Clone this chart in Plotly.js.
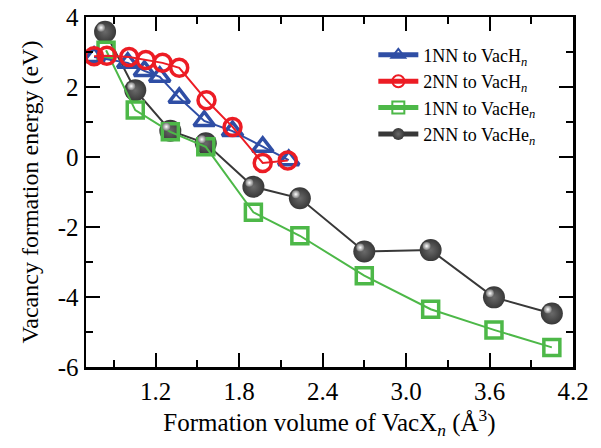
<!DOCTYPE html>
<html>
<head>
<meta charset="utf-8">
<script src="https://cdn.plot.ly/plotly-3.0.1.min.js"></script>
<style>html,body{margin:0;padding:0;background:#fff}#chart{width:601px;height:448px}</style>
</head>
<body>
<div id="chart"></div>
<script>
// 1NN to VacH_n
var h1X = [0.758, 1.00, 1.12, 1.23, 1.37, 1.55, 1.753, 1.97, 2.157];
var h1Y = [2.86, 2.69, 2.46, 2.29, 1.69, 1.03, 0.74, 0.29, -0.09];
// 2NN to VacH_n
var h2X = [0.758, 0.85, 1.01, 1.13, 1.25, 1.37, 1.566, 1.753, 1.97, 2.15];
var h2Y = [2.88, 2.89, 2.86, 2.77, 2.69, 2.55, 1.62, 0.86, -0.17, -0.10];
// 1NN to VacHe_n
var he1X = [0.844, 1.054, 1.306, 1.561, 1.903, 2.237, 2.70, 3.177, 3.632, 4.048];
var he1Y = [3.05, 1.34, 0.72, 0.29, -1.58, -2.25, -3.39, -4.35, -4.94, -5.44];
// 2NN to VacHe_n
var he2X = [0.837, 1.054, 1.306, 1.561, 1.903, 2.237, 2.70, 3.177, 3.632, 4.048];
var he2Y = [3.58, 1.91, 0.75, 0.39, -0.85, -1.18, -2.70, -2.66, -4.01, -4.47];

var seriesNames = ['1NN to VacH<sub><i>n</i></sub>', '2NN to VacH<sub><i>n</i></sub>',
                   '1NN to VacHe<sub><i>n</i></sub>', '2NN to VacHe<sub><i>n</i></sub>'];

var xTickVals = [1.2, 1.8, 2.4, 3.0, 3.6, 4.2];
var xTickText = ['1.2', '1.8', '2.4', '3.0', '3.6', '4.2'];
var yTickVals = [-6, -4, -2, 0, 2, 4];
var yTickText = ['-6', '-4', '-2', '0', '2', '4'];

var blue = '#2f4ea5', red = '#ec1c24', green = '#4db848', dark = '#383838';
var serif = 'Liberation Serif';

var traces = [
  {x: h1X, y: h1Y, name: seriesNames[0], legendrank: 1, mode: 'lines+markers', type: 'scatter',
   line: {color: blue, width: 2},
   marker: {symbol: 'triangle-up-open', size: 18, color: blue, line: {width: 3.5, color: blue}}},
  {x: h2X, y: h2Y, name: seriesNames[1], legendrank: 2, mode: 'lines+markers', type: 'scatter',
   line: {color: red, width: 2},
   marker: {symbol: 'circle-open', size: 17, color: red, line: {width: 3.5, color: red}}},
  {x: he1X, y: he1Y, name: seriesNames[2], legendrank: 3, mode: 'lines+markers', type: 'scatter',
   line: {color: green, width: 2},
   marker: {symbol: 'square-open', size: 16, color: green, line: {width: 3.5, color: green}}},
  {x: he2X, y: he2Y, name: seriesNames[3], legendrank: 4, mode: 'lines+markers', type: 'scatter',
   line: {color: dark, width: 2},
   marker: {symbol: 'circle', size: 22, color: dark, line: {width: 0},
            gradient: {type: 'radial', color: '#6a6a6a'}}},
  // specular highlight on the spheres, drawn on offset overlay axes
  {x: he2X, y: he2Y, xaxis: 'x2', yaxis: 'y2', showlegend: false, mode: 'markers', type: 'scatter',
   marker: {symbol: 'circle', size: 8, color: '#7a7a7a', line: {width: 0},
            gradient: {type: 'radial', color: '#ffffff'}}}
];

// draw order: H series on top of He series
var ordered = [traces[3], traces[2], traces[0], traces[1], traces[4]];

var axisFont = {family: serif, size: 25, color: '#000'};
var xr = [0.7, 4.2], yr = [-6, 4];
var dx = 4 / 139, dy = 4 / 35;

var layout = {
  width: 601, height: 448,
  margin: {l: 86, r: 28, t: 17, b: 81},
  paper_bgcolor: '#fff', plot_bgcolor: '#fff',
  font: {family: serif, color: '#000'},
  showlegend: true,
  legend: {
    x: 0.59, y: 0.944, xanchor: 'left', yanchor: 'top',
    traceorder: 'normal', itemwidth: 40,
    font: {family: serif, size: 18, color: '#000'},
    bgcolor: 'rgba(0,0,0,0)', itemsizing: 'constant'
  },
  xaxis: {
    range: xr, tickvals: xTickVals, ticktext: xTickText,
    ticks: 'inside', ticklen: 14, tickwidth: 2, tickcolor: '#000',
    minor: {dtick: 0.3, tick0: 0.6, ticks: 'inside', ticklen: 7, tickwidth: 2, tickcolor: '#000'},
    showline: true, linecolor: '#000', linewidth: 2.5, mirror: 'allticks',
    showgrid: false, zeroline: false,
    tickfont: axisFont,
    title: {text: 'Formation volume of VacX<sub><i>n</i></sub> (Å<sup>3</sup>)', font: axisFont, standoff: 4}
  },
  yaxis: {
    range: yr, tickvals: yTickVals, ticktext: yTickText,
    ticks: 'inside', ticklen: 14, tickwidth: 2, tickcolor: '#000',
    minor: {dtick: 1, tick0: 0, ticks: 'inside', ticklen: 7, tickwidth: 2, tickcolor: '#000'},
    showline: true, linecolor: '#000', linewidth: 2.5, mirror: 'allticks',
    showgrid: false, zeroline: false,
    tickfont: axisFont,
    title: {text: 'Vacancy formation energy (eV)', font: {family: serif, size: 24, color: '#000'}, standoff: 13}
  },
  xaxis2: {overlaying: 'x', range: [xr[0] + dx, xr[1] + dx], visible: false, fixedrange: true},
  yaxis2: {overlaying: 'y', range: [yr[0] - dy, yr[1] - dy], visible: false, fixedrange: true}
};

Plotly.newPlot('chart', ordered, layout, {displayModeBar: false, staticPlot: true});
</script>
</body>
</html>
